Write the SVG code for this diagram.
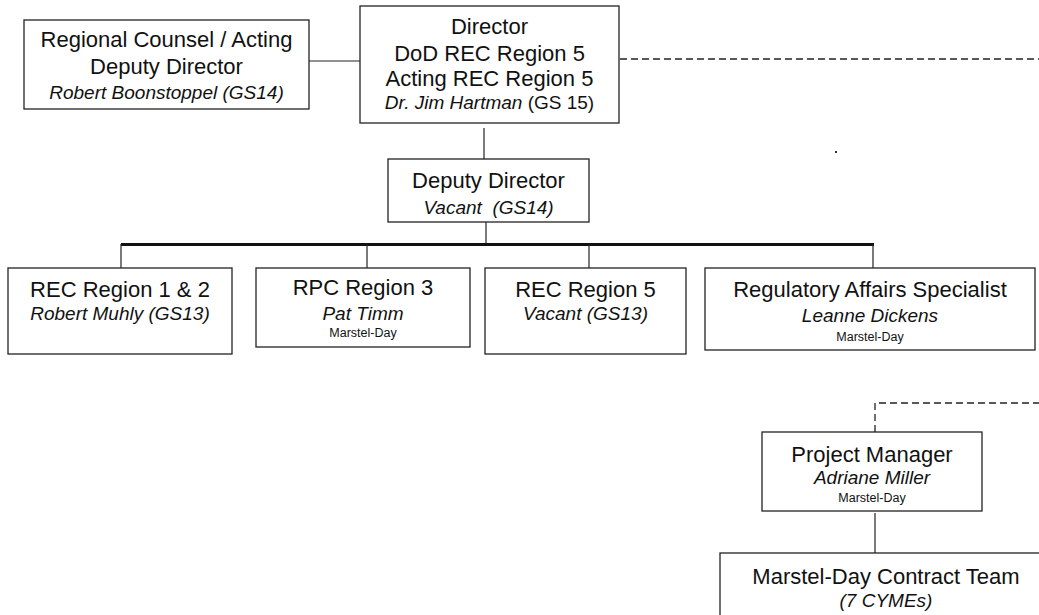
<svg xmlns="http://www.w3.org/2000/svg" width="1039" height="615" viewBox="0 0 1039 615">
<style>
.box{fill:#fff;stroke:#222;stroke-width:1.3}
text{font-family:"Liberation Sans",Arial,sans-serif;fill:#111;text-anchor:middle}
.t{font-size:22px}
.i{font-size:19px;font-style:italic}
.s{font-size:12.5px}
.ln{stroke:#222;stroke-width:1.2;fill:none}
.th{stroke:#111;stroke-width:3;fill:none}
.ds{stroke:#222;stroke-width:1.3;fill:none;stroke-dasharray:7 4}
</style>
<rect width="1039" height="615" fill="#fff"/>
<g id="connectors">
<line class="ln" x1="309" y1="61" x2="360" y2="61"/>
<line class="ds" x1="620" y1="59" x2="1039" y2="59"/>
<line class="ln" x1="484" y1="128" x2="484" y2="159"/>
<line class="ln" x1="486" y1="222" x2="486" y2="244"/>
<line class="th" x1="121" y1="244.5" x2="874" y2="244.5"/>
<line class="ln" x1="121" y1="244" x2="121" y2="268"/>
<line class="ln" x1="367" y1="244" x2="367" y2="268"/>
<line class="ln" x1="589" y1="244" x2="589" y2="268"/>
<line class="ln" x1="873" y1="244" x2="873" y2="268"/>
<path class="ds" d="M875 432 V403 H1039"/>
<line class="ln" x1="875" y1="513" x2="875" y2="553"/>
</g>
<rect x="835" y="151" width="2" height="2" fill="#333"/>
<g id="regional-counsel">
<rect class="box" x="24" y="20" width="285" height="89"/>
<text class="t" x="166.5" y="47">Regional Counsel / Acting</text>
<text class="t" x="166.5" y="74">Deputy Director</text>
<text class="i" x="166.5" y="99">Robert Boonstoppel (GS14)</text>
</g>
<g id="director">
<rect class="box" x="360" y="6" width="259" height="117"/>
<text class="t" x="489.5" y="34">Director</text>
<text class="t" x="489.5" y="61">DoD REC Region 5</text>
<text class="t" x="489.5" y="86">Acting REC Region 5</text>
<text x="489.5" y="109" style="font-size:19px"><tspan font-style="italic">Dr. Jim Hartman</tspan> (GS 15)</text>
</g>
<g id="deputy-director">
<rect class="box" x="388" y="159" width="201" height="63"/>
<text class="t" x="488.5" y="188">Deputy Director</text>
<text class="i" x="488.5" y="214" xml:space="preserve">Vacant  (GS14)</text>
</g>
<g id="rec-1-2">
<rect class="box" x="8" y="268" width="224" height="86"/>
<text class="t" x="120" y="297">REC Region 1 &amp; 2</text>
<text class="i" x="120" y="320">Robert Muhly (GS13)</text>
</g>
<g id="rpc-3">
<rect class="box" x="256" y="268" width="214" height="79"/>
<text class="t" x="363" y="295">RPC Region 3</text>
<text class="i" x="363" y="320">Pat Timm</text>
<text class="s" x="363" y="337">Marstel-Day</text>
</g>
<g id="rec-5">
<rect class="box" x="485" y="268" width="201" height="86"/>
<text class="t" x="585.5" y="297">REC Region 5</text>
<text class="i" x="585.5" y="320">Vacant (GS13)</text>
</g>
<g id="regulatory">
<rect class="box" x="705" y="268" width="330" height="82"/>
<text class="t" x="870" y="297">Regulatory Affairs Specialist</text>
<text class="i" x="870" y="322">Leanne Dickens</text>
<text class="s" x="870" y="341">Marstel-Day</text>
</g>
<g id="project-manager">
<rect class="box" x="762" y="432" width="220" height="79"/>
<text class="t" x="872" y="462">Project Manager</text>
<text class="i" x="872" y="484">Adriane Miller</text>
<text class="s" x="872" y="502">Marstel-Day</text>
</g>
<g id="contract-team">
<rect class="box" x="720" y="553" width="340" height="80"/>
<text class="t" x="886" y="584">Marstel-Day Contract Team</text>
<text class="i" x="886" y="607">(7 CYMEs)</text>
</g>
</svg>
